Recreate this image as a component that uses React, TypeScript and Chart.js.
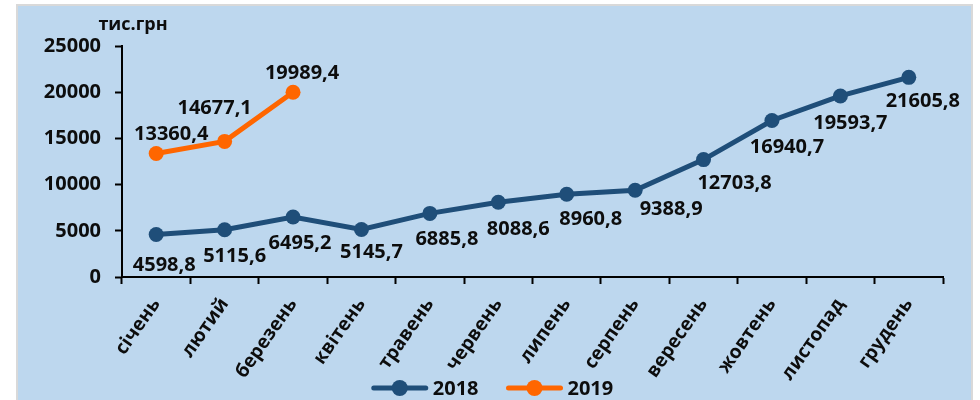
import { useEffect, useRef } from "react";
import { Chart, registerables } from "chart.js";

Chart.register(...registerables);

const months = [
  "січень", "лютий", "березень", "квітень", "травень", "червень",
  "липень", "серпень", "вересень", "жовтень", "листопад", "грудень",
];
const values2018 = [4598.8, 5115.6, 6495.2, 5145.7, 6885.8, 8088.6, 8960.8, 9388.9, 12703.8, 16940.7, 19593.7, 21605.8];
const values2019 = [13360.4, 14677.1, 19989.4, null, null, null, null, null, null, null, null, null];
const seriesNames = ["2018", "2019"];
const unitLabel = "тис.грн";
const yMax = 25000;
const yStep = 5000;

const FONT = "'Open Sans', 'DejaVu Sans', sans-serif";
const COLORS = ["#1F4E79", "#FF6600"];

// label offsets relative to each point (styling)
const labelOffsets: [number, number][][] = [
  [[8, 31], [10, 27], [7, 26], [10, 23], [17, 26], [20, 27], [24, 25], [36, 19], [31, 24], [15, 27], [10, 27], [14, 24]],
  [[15, -19], [-10, -33], [9, -19]],
];

const fmt = (v: number) => v.toFixed(1).replace(".", ",");

const extrasPlugin = {
  id: "extras",
  afterDatasetsDraw(chart: any) {
    const ctx = chart.ctx;
    ctx.save();
    ctx.fillStyle = "#0D0D0D";
    ctx.font = `bold 20px ${FONT}`;
    ctx.textAlign = "center";
    ctx.textBaseline = "middle";
    chart.data.datasets.forEach((ds: any, di: number) => {
      const meta = chart.getDatasetMeta(di);
      meta.data.forEach((el: any, i: number) => {
        const v = ds.data[i];
        if (v == null) return;
        const off = (labelOffsets[di] && labelOffsets[di][i]) || [10, 25];
        ctx.fillText(fmt(v), el.x + off[0], el.y + off[1]);
      });
    });

    // unit label
    const ca = chart.chartArea;
    ctx.font = `bold 18px ${FONT}`;
    ctx.fillText(unitLabel, ca.left + 11, ca.top - 21);

    // legend
    ctx.font = `bold 20px ${FONT}`;
    const lineW = 56;
    const gapText = 5;
    const gapItem = 28;
    const widths = chart.data.datasets.map((ds: any) => lineW + gapText + ctx.measureText(ds.label).width);
    const total = widths.reduce((a: number, b: number) => a + b, 0) + gapItem * (widths.length - 1);
    let x = chart.width / 2 - total / 2 - 2;
    const y = 382;
    chart.data.datasets.forEach((ds: any, di: number) => {
      ctx.strokeStyle = ds.borderColor;
      ctx.lineWidth = 5;
      ctx.lineCap = "round";
      ctx.beginPath();
      ctx.moveTo(x + 2, y);
      ctx.lineTo(x + lineW - 2, y);
      ctx.stroke();
      ctx.fillStyle = ds.borderColor;
      ctx.beginPath();
      ctx.arc(x + lineW / 2, y, 8, 0, Math.PI * 2);
      ctx.fill();
      ctx.fillStyle = "#0D0D0D";
      ctx.textAlign = "left";
      ctx.fillText(ds.label, x + lineW + gapText, y + 1);
      x += widths[di] + gapItem;
    });
    ctx.restore();
  },
};

export default function App() {
  const ref = useRef<HTMLCanvasElement | null>(null);

  useEffect(() => {
    if (!ref.current) return;
    const chart = new Chart(ref.current, {
      type: "line",
      data: {
        labels: months,
        datasets: [
          {
            label: seriesNames[0],
            data: values2018,
            borderColor: COLORS[0],
            backgroundColor: COLORS[0],
            borderWidth: 5,
            pointRadius: 7.5,
            pointBorderWidth: 0,
            pointBackgroundColor: COLORS[0],
            tension: 0,
          },
          {
            label: seriesNames[1],
            data: values2019,
            borderColor: COLORS[1],
            backgroundColor: COLORS[1],
            borderWidth: 5,
            pointRadius: 7.5,
            pointBorderWidth: 0,
            pointBackgroundColor: COLORS[1],
            tension: 0,
          },
        ],
      },
      options: {
        animation: false,
        responsive: false,
        maintainAspectRatio: false,
        devicePixelRatio: 1,
        layout: { padding: { top: 40, right: 28, left: 0, bottom: 0 } },
        plugins: {
          legend: { display: false },
          tooltip: { enabled: false },
          title: { display: false },
        },
        scales: {
          x: {
            type: "category",
            offset: true,
            grid: {
              offset: true,
              drawOnChartArea: false,
              tickLength: 7,
              tickColor: "#000",
              tickWidth: 2,
            },
            border: { color: "#000", width: 2 },
            ticks: {
              autoSkip: false,
              minRotation: 55,
              maxRotation: 55,
              color: "#0D0D0D",
              padding: 10,
              font: { family: FONT, weight: "bold", size: 19 },
            },
            afterFit: (s: any) => {
              s.height = 123;
            },
          },
          y: {
            min: 0,
            max: yMax,
            ticks: {
              stepSize: yStep,
              color: "#0D0D0D",
              padding: 14,
              font: { family: FONT, weight: "bold", size: 20 },
              callback: (v: any) => String(v),
            },
            grid: {
              drawOnChartArea: false,
              tickLength: 7,
              tickColor: "#000",
              tickWidth: 2,
            },
            border: { color: "#000", width: 2 },
            afterFit: (s: any) => {
              s.width = 104;
            },
          },
        },
      } as any,
      plugins: [extrasPlugin],
    });
    if ((document as any).fonts) {
      (document as any).fonts.load(`bold 20px 'Open Sans'`).then(() => chart.update()).catch(() => {});
    }
    return () => chart.destroy();
  }, []);

  return (
    <div style={{ position: "absolute", left: 0, top: 0, width: 980, height: 400, background: "#FFFFFF", overflow: "hidden" }}>
      <div
        style={{
          position: "absolute",
          left: 16,
          top: 4,
          width: 957,
          height: 396,
          boxSizing: "border-box",
          borderTop: "2px solid #D9D9D9",
          borderLeft: "2px solid #D9D9D9",
          borderRight: "2px solid #D9D9D9",
          background: "#BDD7EE",
        }}
      >
        <canvas ref={ref} width={953} height={394} style={{ display: "block", width: 953, height: 394 }} />
      </div>
    </div>
  );
}
